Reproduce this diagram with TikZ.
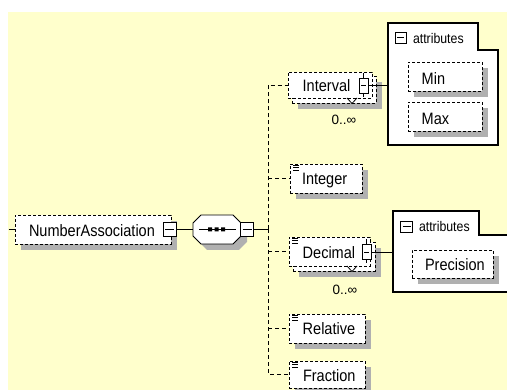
\documentclass[tikz,border=0pt]{standalone}
\usepackage{fontspec}
\newfontfamily\lab[FakeStretch=0.88]{Liberation Sans}
\newfontfamily\occfont{Liberation Sans}
\definecolor{bgyellow}{RGB}{255,255,204}
\definecolor{shadowgray}{RGB}{176,176,176}
\newcommand\eqicon[1]{\draw[line width=0.7pt, shift={(#1.north west)}] (3,1.5)--(9,1.5) (3,3.7)--(9,3.7) (3,6)--(9,6);}
\begin{document}
\begin{tikzpicture}[x=1pt,y=-1pt,
  every node/.style={inner sep=0pt, outer sep=0pt},
  optbox/.style={draw, rectangle, line width=0.9pt, dash pattern=on 3pt off 2pt, fill=white},
  lbl/.style={anchor=base west, font=\lab\fontsize{16.5}{18}\selectfont},
  attlbl/.style={anchor=base west, font=\lab\fontsize{14}{16}\selectfont},
  occ/.style={anchor=base west, font=\occfont\fontsize{13.5}{15}\selectfont},
  minusbox/.style={draw, rectangle, line width=0.9pt, fill=white, minimum width=13pt, minimum height=14pt,
    path picture={\draw[line width=0.9pt] ([xshift=2pt]path picture bounding box.west) -- ([xshift=-2pt]path picture bounding box.east);}},
  vminus/.style={minusbox, minimum width=9pt, minimum height=15pt},
  conn/.style={line width=0.9pt},
  dconn/.style={line width=0.9pt, dash pattern=on 4pt off 3pt},
  attbox/.style={draw, line width=1.3pt, fill=white}
]
\useasboundingbox (0,0) rectangle (507,390);
\clip (0,0) rectangle (507,390);
\fill[white] (0,0) rectangle (507,390);
\fill[bgyellow] (8,12) rectangle (507,390);

% root element
\fill[shadowgray] (21,221) rectangle (177,250);
\node[optbox, minimum width=156pt, minimum height=29pt] (na) at (93,229.5) {};
\node[lbl] (natxt) at (29,236.5) {NumberAssociation};
\node[minusbox] (naminus) at (169.5,229.5) {};
\coordinate (nastub) at (8.5,229.5);
\draw[conn] (nastub) -- (na.west);

% sequence compositor
\node[minimum width=48pt, minimum height=29pt] (seq) at (217,229.5) {};
\fill[shadowgray, shift={(6,6)}] (201,215) -- (233,215) -- (241,223) -- (241,236) -- (233,244) -- (201,244) -- (193,236) -- (193,223) -- cycle;
\draw[conn, fill=white] (201,215) -- (233,215) -- (241,223) -- (241,236) -- (233,244) -- (201,244) -- (193,236) -- (193,223) -- cycle;
\draw[conn] (199,229.5) -- (236,229.5);
\fill (208,227.5) rectangle +(4,4) (214.5,227.5) rectangle +(4,4) (221,227.5) rectangle +(4,4);
\node[minusbox] (seqminus) at (247,229.5) {};
\draw[conn] (naminus.east) -- (seq.west);
\coordinate (fork) at (268,229.5);
\draw[conn] (seqminus.east) -- (fork);

% Interval
\fill[shadowgray] (298,82) rectangle (382,109);
\node[optbox, minimum width=84pt, minimum height=27pt] (intervalback) at (334,89.5) {};
\node[optbox, minimum width=84pt, minimum height=26pt] (interval) at (330,85) {};
\draw[line width=0.8pt] (347,98) -- (352,103.5) -- (357,98);
\node[lbl] (intervaltxt) at (302.7,92) {Interval};
\node[vminus] (intervalminus) at (363.5,85.5) {};
\draw[conn] (intervalminus.north) -- ++(0,-5);
\draw[conn] (intervalminus.south) -- ++(0,4);
\node[occ] (intervalocc) at (331.7,125) {0..∞};

% Interval attributes
\draw[attbox] (388,23) -- (478,23) -- (478,50) -- (498,50) -- (498,145) -- (388,145) -- cycle;
\coordinate (intattr) at (388,85.5);
\draw[conn] (intervalminus.east) -- (intattr);
\node[minusbox, minimum width=11pt, minimum height=11pt] (intattrminus) at (400.5,37.5) {};
\node[attlbl] (intattrtxt) at (413,43.3) {attributes};
\fill[shadowgray] (414,68) rectangle (488,97);
\node[optbox, minimum width=74pt, minimum height=29pt] (min) at (445,76.5) {};
\node[lbl] (mintxt) at (421.7,85) {Min};
\fill[shadowgray] (414,108) rectangle (488,137);
\node[optbox, minimum width=74pt, minimum height=29pt] (max) at (445,116.5) {};
\node[lbl] (maxtxt) at (421.7,125) {Max};

% Integer
\fill[shadowgray] (296,170) rectangle (368,199);
\node[optbox, minimum width=72pt, minimum height=29pt] (integer) at (326,178.5) {};
\eqicon{integer}
\node[lbl] (integertxt) at (302,185) {Integer};

% Decimal
\fill[shadowgray] (299,248) rectangle (381,277);
\node[optbox, minimum width=82pt, minimum height=29pt] (decimalback) at (334,256.5) {};
\node[optbox, minimum width=81pt, minimum height=29pt] (decimal) at (329.5,251.5) {};
\draw[line width=0.8pt] (347,266) -- (352,271.5) -- (357,266);
\eqicon{decimal}
\node[lbl] (decimaltxt) at (302.7,259) {Decimal};
\node[vminus] (decimalminus) at (366.5,252) {};
\draw[conn] (decimalminus.north) -- ++(0,-5);
\draw[conn] (decimalminus.south) -- ++(0,4);
\node[occ] (decimalocc) at (332.7,295) {0..∞};

% Decimal attributes
\draw[attbox] (393,211) -- (479,211) -- (479,235) -- (515,235) -- (515,292) -- (393,292) -- cycle;
\coordinate (decattr) at (393,252);
\draw[conn] (decimalminus.east) -- (decattr);
\node[minusbox, minimum width=12pt, minimum height=11pt] (decattrminus) at (406.5,226.5) {};
\node[attlbl] (decattrtxt) at (419,231.7) {attributes};
\fill[shadowgray] (418,256) rectangle (499,284);
\node[optbox, minimum width=81pt, minimum height=28pt] (precision) at (452.5,264) {};
\node[lbl] (precisiontxt) at (425,270.5) {Precision};

% Relative
\fill[shadowgray] (295,320) rectangle (371,349);
\node[optbox, minimum width=76pt, minimum height=29pt] (relative) at (327,328.5) {};
\eqicon{relative}
\node[lbl] (relativetxt) at (302.7,335) {Relative};

% Fraction
\fill[shadowgray] (295,367) rectangle (371,394);
\node[optbox, minimum width=76pt, minimum height=27pt] (fraction) at (327,374.5) {};
\eqicon{fraction}
\node[lbl] (fractiontxt) at (303,381.5) {Fraction};

% choice branches
\draw[dconn] (fork) |- (interval.west);
\draw[dconn] (fork) |- (fraction.west);
\draw[dconn] (fork |- integer.west) -- (integer.west);
\draw[dconn] (fork |- decimal.west) -- (decimal.west);
\draw[dconn] (fork |- relative.west) -- (relative.west);
\end{tikzpicture}
\end{document}
